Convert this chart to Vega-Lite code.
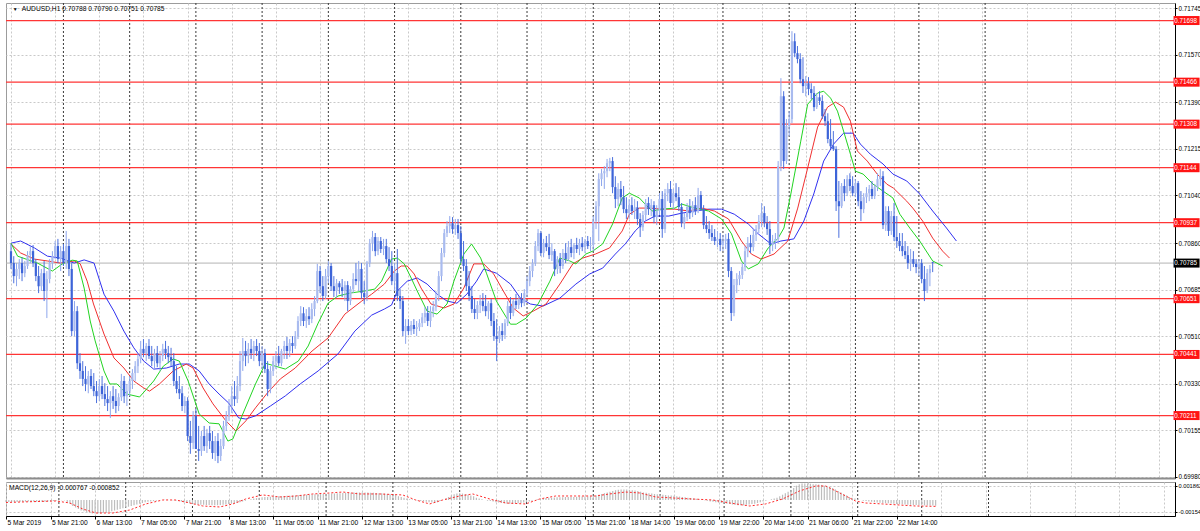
{
"$schema":"https://vega.github.io/schema/vega-lite/v6.json",
"padding":{"left":3,"top":2,"right":0,"bottom":0},
"background":"white",
"spacing":0,
"config":{"view":{"stroke":"#9C9C9C"},"axis":{"labelFont":"Liberation Sans","labelFontSize":6.4,"labelColor":"#000000"},"text":{"font":"Liberation Sans"}},
"datasets":{
"bars":[
{"i":0,"o":0.7083,"h":0.70857,"l":0.70763,"c":0.70785,"m":-0.00026},
{"i":1,"o":0.70785,"h":0.70811,"l":0.70709,"c":0.70736,"m":-0.00028},
{"i":2,"o":0.70736,"h":0.70785,"l":0.70698,"c":0.70763,"m":-0.0003},
{"i":3,"o":0.70763,"h":0.708,"l":0.70725,"c":0.70785,"m":-0.00029},
{"i":4,"o":0.70785,"h":0.70807,"l":0.70717,"c":0.70747,"m":-0.00027},
{"i":5,"o":0.70747,"h":0.70793,"l":0.70732,"c":0.70774,"m":-0.00026},
{"i":6,"o":0.70774,"h":0.7083,"l":0.70763,"c":0.70815,"m":-0.00024},
{"i":7,"o":0.70815,"h":0.70849,"l":0.70785,"c":0.7083,"m":-0.00022},
{"i":8,"o":0.7083,"h":0.70853,"l":0.7077,"c":0.70785,"m":-0.00021},
{"i":9,"o":0.70785,"h":0.708,"l":0.70717,"c":0.70736,"m":-0.00022},
{"i":10,"o":0.70736,"h":0.70774,"l":0.70672,"c":0.70698,"m":-0.00024},
{"i":11,"o":0.70698,"h":0.70763,"l":0.7068,"c":0.70747,"m":-0.00025},
{"i":12,"o":0.70747,"h":0.70793,"l":0.70642,"c":0.7068,"m":-0.00026},
{"i":13,"o":0.7068,"h":0.70755,"l":0.70578,"c":0.70725,"m":-0.00027},
{"i":14,"o":0.70725,"h":0.708,"l":0.70709,"c":0.70785,"m":-0.00024},
{"i":15,"o":0.70785,"h":0.7083,"l":0.70763,"c":0.70811,"m":-0.0002},
{"i":16,"o":0.70811,"h":0.70868,"l":0.708,"c":0.70849,"m":-0.00016},
{"i":17,"o":0.70849,"h":0.70876,"l":0.70785,"c":0.708,"m":-0.00012},
{"i":18,"o":0.708,"h":0.70849,"l":0.70755,"c":0.7083,"m":-0.0001},
{"i":19,"o":0.7083,"h":0.70857,"l":0.70774,"c":0.70785,"m":-0.00008},
{"i":20,"o":0.70785,"h":0.70906,"l":0.70763,"c":0.70849,"m":-0.00003},
{"i":21,"o":0.70849,"h":0.70876,"l":0.70736,"c":0.70763,"m":-0.00005},
{"i":22,"o":0.70763,"h":0.70785,"l":0.7051,"c":0.70529,"m":-0.0003},
{"i":23,"o":0.70529,"h":0.70642,"l":0.7051,"c":0.70604,"m":-0.00055},
{"i":24,"o":0.70604,"h":0.70623,"l":0.70386,"c":0.70408,"m":-0.0008},
{"i":25,"o":0.70408,"h":0.70446,"l":0.70349,"c":0.70379,"m":-0.001},
{"i":26,"o":0.70379,"h":0.70416,"l":0.70322,"c":0.70349,"m":-0.0012},
{"i":27,"o":0.70349,"h":0.70397,"l":0.70303,"c":0.7033,"m":-0.0014},
{"i":28,"o":0.7033,"h":0.70379,"l":0.70295,"c":0.7036,"m":-0.0015},
{"i":29,"o":0.7036,"h":0.70386,"l":0.70311,"c":0.70322,"m":-0.0016},
{"i":30,"o":0.70322,"h":0.70371,"l":0.70284,"c":0.70303,"m":-0.0017},
{"i":31,"o":0.70303,"h":0.70341,"l":0.70258,"c":0.70284,"m":-0.0018},
{"i":32,"o":0.70284,"h":0.70349,"l":0.70266,"c":0.70322,"m":-0.0018},
{"i":33,"o":0.70322,"h":0.7036,"l":0.70273,"c":0.70292,"m":-0.0018},
{"i":34,"o":0.70292,"h":0.70333,"l":0.70247,"c":0.70273,"m":-0.0018},
{"i":35,"o":0.70273,"h":0.70322,"l":0.70228,"c":0.70258,"m":-0.0017},
{"i":36,"o":0.70258,"h":0.70303,"l":0.70202,"c":0.70284,"m":-0.0017},
{"i":37,"o":0.70284,"h":0.70322,"l":0.70236,"c":0.70266,"m":-0.0016},
{"i":38,"o":0.70266,"h":0.70311,"l":0.7022,"c":0.70247,"m":-0.0015},
{"i":39,"o":0.70247,"h":0.70295,"l":0.70228,"c":0.7028,"m":-0.0014},
{"i":40,"o":0.7028,"h":0.70368,"l":0.70266,"c":0.70341,"m":-0.0013},
{"i":41,"o":0.70341,"h":0.7036,"l":0.70258,"c":0.70284,"m":-0.0012},
{"i":42,"o":0.70284,"h":0.7033,"l":0.70247,"c":0.70303,"m":-0.0011},
{"i":43,"o":0.70303,"h":0.7036,"l":0.70284,"c":0.70341,"m":-0.001},
{"i":44,"o":0.70341,"h":0.70386,"l":0.70311,"c":0.70371,"m":-0.0009},
{"i":45,"o":0.70371,"h":0.70416,"l":0.70341,"c":0.70397,"m":-0.0008},
{"i":46,"o":0.70397,"h":0.70446,"l":0.70371,"c":0.70424,"m":-0.0007},
{"i":47,"o":0.70424,"h":0.70492,"l":0.70408,"c":0.70462,"m":-0.0006},
{"i":48,"o":0.70462,"h":0.70499,"l":0.70431,"c":0.70446,"m":-0.0005},
{"i":49,"o":0.70446,"h":0.70484,"l":0.70416,"c":0.70473,"m":-0.0004},
{"i":50,"o":0.70473,"h":0.70499,"l":0.70424,"c":0.70435,"m":-0.0003},
{"i":51,"o":0.70435,"h":0.70473,"l":0.70397,"c":0.70416,"m":-0.00025},
{"i":52,"o":0.70416,"h":0.70462,"l":0.70386,"c":0.70446,"m":-0.0002},
{"i":53,"o":0.70446,"h":0.70473,"l":0.70393,"c":0.70408,"m":-0.00015},
{"i":54,"o":0.70408,"h":0.70454,"l":0.70379,"c":0.70435,"m":-0.0001},
{"i":55,"o":0.70435,"h":0.70481,"l":0.70416,"c":0.70462,"m":-0.00005},
{"i":56,"o":0.70462,"h":0.70492,"l":0.70424,"c":0.70446,"m":0},
{"i":57,"o":0.70446,"h":0.70473,"l":0.70408,"c":0.70431,"m":0.00002},
{"i":58,"o":0.70431,"h":0.70466,"l":0.70397,"c":0.70416,"m":0.00003},
{"i":59,"o":0.70416,"h":0.70446,"l":0.70322,"c":0.70341,"m":0},
{"i":60,"o":0.70341,"h":0.70397,"l":0.70295,"c":0.70311,"m":-0.00005},
{"i":61,"o":0.70311,"h":0.7036,"l":0.70273,"c":0.70295,"m":-0.0001},
{"i":62,"o":0.70295,"h":0.70322,"l":0.70228,"c":0.70247,"m":-0.00015},
{"i":63,"o":0.70247,"h":0.70284,"l":0.7022,"c":0.70266,"m":-0.0002},
{"i":64,"o":0.70266,"h":0.7028,"l":0.70115,"c":0.70134,"m":-0.0003},
{"i":65,"o":0.70134,"h":0.70191,"l":0.70067,"c":0.70108,"m":-0.0004},
{"i":66,"o":0.70108,"h":0.70228,"l":0.70085,"c":0.7021,"m":-0.00045},
{"i":67,"o":0.7021,"h":0.70236,"l":0.70096,"c":0.70085,"m":-0.0005},
{"i":68,"o":0.70085,"h":0.70172,"l":0.7004,"c":0.70078,"m":-0.00055},
{"i":69,"o":0.70078,"h":0.70153,"l":0.70059,"c":0.70134,"m":-0.0006},
{"i":70,"o":0.70134,"h":0.70172,"l":0.70078,"c":0.70096,"m":-0.00062},
{"i":71,"o":0.70096,"h":0.70161,"l":0.7007,"c":0.70145,"m":-0.00064},
{"i":72,"o":0.70145,"h":0.70172,"l":0.70085,"c":0.70115,"m":-0.00066},
{"i":73,"o":0.70115,"h":0.70153,"l":0.70048,"c":0.7007,"m":-0.00068},
{"i":74,"o":0.7007,"h":0.70134,"l":0.7004,"c":0.70115,"m":-0.0007},
{"i":75,"o":0.70115,"h":0.70145,"l":0.70032,"c":0.70059,"m":-0.0007},
{"i":76,"o":0.70059,"h":0.70123,"l":0.7004,"c":0.70096,"m":-0.0007},
{"i":77,"o":0.70096,"h":0.70191,"l":0.70085,"c":0.70172,"m":-0.00068},
{"i":78,"o":0.70172,"h":0.70228,"l":0.70153,"c":0.7021,"m":-0.00065},
{"i":79,"o":0.7021,"h":0.70273,"l":0.70191,"c":0.70247,"m":-0.0006},
{"i":80,"o":0.70247,"h":0.70322,"l":0.7022,"c":0.70284,"m":-0.00055},
{"i":81,"o":0.70284,"h":0.70341,"l":0.70247,"c":0.70273,"m":-0.0005},
{"i":82,"o":0.70273,"h":0.7036,"l":0.70258,"c":0.70322,"m":-0.00045},
{"i":83,"o":0.70322,"h":0.70454,"l":0.70303,"c":0.70416,"m":-0.0004},
{"i":84,"o":0.70416,"h":0.70503,"l":0.70379,"c":0.70454,"m":-0.0003},
{"i":85,"o":0.70454,"h":0.70492,"l":0.70397,"c":0.70435,"m":-0.0002},
{"i":86,"o":0.70435,"h":0.70484,"l":0.70408,"c":0.70462,"m":-0.0001},
{"i":87,"o":0.70462,"h":0.70499,"l":0.70424,"c":0.70446,"m":0},
{"i":88,"o":0.70446,"h":0.70492,"l":0.70416,"c":0.70473,"m":0.0001},
{"i":89,"o":0.70473,"h":0.70499,"l":0.70435,"c":0.70454,"m":0.0002},
{"i":90,"o":0.70454,"h":0.70484,"l":0.70397,"c":0.70416,"m":0.00025},
{"i":91,"o":0.70416,"h":0.70473,"l":0.70386,"c":0.70446,"m":0.0003},
{"i":92,"o":0.70446,"h":0.70462,"l":0.70371,"c":0.70386,"m":0.00035},
{"i":93,"o":0.70386,"h":0.70416,"l":0.70284,"c":0.70311,"m":0.0004},
{"i":94,"o":0.70311,"h":0.70397,"l":0.70295,"c":0.70379,"m":0.0004},
{"i":95,"o":0.70379,"h":0.70435,"l":0.7036,"c":0.70416,"m":0.00042},
{"i":96,"o":0.70416,"h":0.70454,"l":0.70386,"c":0.70435,"m":0.00045},
{"i":97,"o":0.70435,"h":0.70473,"l":0.70397,"c":0.70408,"m":0.00047},
{"i":98,"o":0.70408,"h":0.70462,"l":0.70397,"c":0.70454,"m":0.0005},
{"i":99,"o":0.70454,"h":0.70492,"l":0.70424,"c":0.70473,"m":0.0005},
{"i":100,"o":0.70473,"h":0.70507,"l":0.70424,"c":0.70454,"m":0.00052},
{"i":101,"o":0.70454,"h":0.70499,"l":0.70431,"c":0.70484,"m":0.00055},
{"i":102,"o":0.70484,"h":0.7051,"l":0.70446,"c":0.70473,"m":0.00057},
{"i":103,"o":0.70473,"h":0.70529,"l":0.70462,"c":0.7051,"m":0.0006},
{"i":104,"o":0.7051,"h":0.70585,"l":0.70499,"c":0.70567,"m":0.0006},
{"i":105,"o":0.70567,"h":0.70623,"l":0.70548,"c":0.70596,"m":0.00062},
{"i":106,"o":0.70596,"h":0.70619,"l":0.70548,"c":0.70567,"m":0.00065},
{"i":107,"o":0.70567,"h":0.70612,"l":0.70541,"c":0.70585,"m":0.00067},
{"i":108,"o":0.70585,"h":0.70619,"l":0.70552,"c":0.70574,"m":0.0007},
{"i":109,"o":0.70574,"h":0.70634,"l":0.70559,"c":0.70612,"m":0.0007},
{"i":110,"o":0.70612,"h":0.70661,"l":0.70585,"c":0.70642,"m":0.00072},
{"i":111,"o":0.70642,"h":0.70782,"l":0.70634,"c":0.70755,"m":0.00075},
{"i":112,"o":0.70755,"h":0.70774,"l":0.70672,"c":0.70698,"m":0.00077},
{"i":113,"o":0.70698,"h":0.70736,"l":0.70642,"c":0.70661,"m":0.0008},
{"i":114,"o":0.70661,"h":0.70763,"l":0.7065,"c":0.70736,"m":0.0008},
{"i":115,"o":0.70736,"h":0.70793,"l":0.70709,"c":0.70774,"m":0.0008},
{"i":116,"o":0.70774,"h":0.70785,"l":0.7068,"c":0.70698,"m":0.00082},
{"i":117,"o":0.70698,"h":0.70736,"l":0.70657,"c":0.7068,"m":0.00085},
{"i":118,"o":0.7068,"h":0.70725,"l":0.70654,"c":0.70709,"m":0.00087},
{"i":119,"o":0.70709,"h":0.70717,"l":0.70669,"c":0.70694,"m":0.0009},
{"i":120,"o":0.70694,"h":0.70725,"l":0.70657,"c":0.7068,"m":0.0009},
{"i":121,"o":0.7068,"h":0.70717,"l":0.70642,"c":0.70702,"m":0.00092},
{"i":122,"o":0.70702,"h":0.70717,"l":0.70604,"c":0.70642,"m":0.00095},
{"i":123,"o":0.70642,"h":0.70698,"l":0.70627,"c":0.70687,"m":0.00095},
{"i":124,"o":0.70687,"h":0.70747,"l":0.70672,"c":0.70725,"m":0.00097},
{"i":125,"o":0.70725,"h":0.70785,"l":0.70702,"c":0.70717,"m":0.001},
{"i":126,"o":0.70717,"h":0.70793,"l":0.7068,"c":0.70763,"m":0.001},
{"i":127,"o":0.70763,"h":0.70785,"l":0.7065,"c":0.70672,"m":0.001},
{"i":128,"o":0.70672,"h":0.70717,"l":0.70631,"c":0.70657,"m":0.001},
{"i":129,"o":0.70657,"h":0.70793,"l":0.70642,"c":0.70785,"m":0.001},
{"i":130,"o":0.70785,"h":0.70876,"l":0.7077,"c":0.7086,"m":0.00098},
{"i":131,"o":0.7086,"h":0.70906,"l":0.7083,"c":0.70883,"m":0.00097},
{"i":132,"o":0.70883,"h":0.70898,"l":0.70811,"c":0.7083,"m":0.00095},
{"i":133,"o":0.7083,"h":0.70883,"l":0.70815,"c":0.70868,"m":0.00093},
{"i":134,"o":0.70868,"h":0.70883,"l":0.70823,"c":0.70838,"m":0.0009},
{"i":135,"o":0.70838,"h":0.70876,"l":0.70815,"c":0.70849,"m":0.00088},
{"i":136,"o":0.70849,"h":0.70876,"l":0.70785,"c":0.708,"m":0.00085},
{"i":137,"o":0.708,"h":0.70845,"l":0.70755,"c":0.70774,"m":0.0008},
{"i":138,"o":0.70774,"h":0.7083,"l":0.70702,"c":0.70717,"m":0.00075},
{"i":139,"o":0.70717,"h":0.70785,"l":0.7068,"c":0.70747,"m":0.0007},
{"i":140,"o":0.70747,"h":0.70838,"l":0.70642,"c":0.70661,"m":0.00065},
{"i":141,"o":0.70661,"h":0.70687,"l":0.70612,"c":0.70642,"m":0.0005},
{"i":142,"o":0.70642,"h":0.70661,"l":0.7051,"c":0.70529,"m":0.0004},
{"i":143,"o":0.70529,"h":0.70574,"l":0.70481,"c":0.70548,"m":0.0003},
{"i":144,"o":0.70548,"h":0.70574,"l":0.70514,"c":0.70529,"m":0.0002},
{"i":145,"o":0.70529,"h":0.70567,"l":0.70514,"c":0.70552,"m":0.0001},
{"i":146,"o":0.70552,"h":0.70574,"l":0.70518,"c":0.70537,"m":0.00005},
{"i":147,"o":0.70537,"h":0.70567,"l":0.7051,"c":0.70544,"m":-0.00005},
{"i":148,"o":0.70544,"h":0.70574,"l":0.70529,"c":0.70559,"m":-0.0001},
{"i":149,"o":0.70559,"h":0.70597,"l":0.70544,"c":0.70581,"m":-0.00015},
{"i":150,"o":0.70581,"h":0.70619,"l":0.70559,"c":0.70597,"m":-0.0002},
{"i":151,"o":0.70597,"h":0.70623,"l":0.70548,"c":0.70567,"m":-0.00025},
{"i":152,"o":0.70567,"h":0.70623,"l":0.70544,"c":0.70604,"m":-0.0003},
{"i":153,"o":0.70604,"h":0.70642,"l":0.70581,"c":0.70619,"m":-0.00035},
{"i":154,"o":0.70619,"h":0.7068,"l":0.70604,"c":0.70657,"m":-0.0004},
{"i":155,"o":0.70657,"h":0.70755,"l":0.70642,"c":0.70736,"m":-0.0003},
{"i":156,"o":0.70736,"h":0.70842,"l":0.70717,"c":0.70823,"m":-0.00015},
{"i":157,"o":0.70823,"h":0.70913,"l":0.70807,"c":0.70898,"m":0},
{"i":158,"o":0.70898,"h":0.70943,"l":0.70883,"c":0.70924,"m":0.0002},
{"i":159,"o":0.70924,"h":0.70962,"l":0.70898,"c":0.70935,"m":0.0004},
{"i":160,"o":0.70935,"h":0.70958,"l":0.70895,"c":0.70913,"m":0.0006},
{"i":161,"o":0.70913,"h":0.70951,"l":0.70891,"c":0.70928,"m":0.00075},
{"i":162,"o":0.70928,"h":0.70951,"l":0.70876,"c":0.70898,"m":0.00085},
{"i":163,"o":0.70898,"h":0.70924,"l":0.70785,"c":0.708,"m":0.0009},
{"i":164,"o":0.708,"h":0.70868,"l":0.70755,"c":0.70774,"m":0.00085},
{"i":165,"o":0.70774,"h":0.708,"l":0.7068,"c":0.70698,"m":0.0008},
{"i":166,"o":0.70698,"h":0.70755,"l":0.70642,"c":0.70661,"m":0.0007},
{"i":167,"o":0.70661,"h":0.70698,"l":0.70597,"c":0.70612,"m":0.0006},
{"i":168,"o":0.70612,"h":0.7065,"l":0.70574,"c":0.70597,"m":0.0005},
{"i":169,"o":0.70597,"h":0.70642,"l":0.70574,"c":0.70627,"m":0.0003},
{"i":170,"o":0.70627,"h":0.70665,"l":0.70597,"c":0.70642,"m":0.0002},
{"i":171,"o":0.70642,"h":0.70672,"l":0.70604,"c":0.70623,"m":0.0001},
{"i":172,"o":0.70623,"h":0.70665,"l":0.70585,"c":0.70604,"m":0},
{"i":173,"o":0.70604,"h":0.70642,"l":0.70574,"c":0.70634,"m":-0.0001},
{"i":174,"o":0.70634,"h":0.7065,"l":0.70548,"c":0.70567,"m":-0.00015},
{"i":175,"o":0.70567,"h":0.70597,"l":0.70492,"c":0.7051,"m":-0.0002},
{"i":176,"o":0.7051,"h":0.70574,"l":0.70416,"c":0.70499,"m":-0.0003},
{"i":177,"o":0.70499,"h":0.70548,"l":0.70484,"c":0.70529,"m":-0.00035},
{"i":178,"o":0.70529,"h":0.70559,"l":0.70492,"c":0.70514,"m":-0.0004},
{"i":179,"o":0.70514,"h":0.70574,"l":0.70499,"c":0.70559,"m":-0.00045},
{"i":180,"o":0.70559,"h":0.70642,"l":0.70548,"c":0.70623,"m":-0.0005},
{"i":181,"o":0.70623,"h":0.70657,"l":0.70574,"c":0.70597,"m":-0.0005},
{"i":182,"o":0.70597,"h":0.7065,"l":0.70585,"c":0.70642,"m":-0.0005},
{"i":183,"o":0.70642,"h":0.70669,"l":0.70612,"c":0.70627,"m":-0.00048},
{"i":184,"o":0.70627,"h":0.70661,"l":0.70612,"c":0.7065,"m":-0.00045},
{"i":185,"o":0.7065,"h":0.70672,"l":0.70619,"c":0.70634,"m":-0.0004},
{"i":186,"o":0.70634,"h":0.70687,"l":0.70623,"c":0.70672,"m":-0.00035},
{"i":187,"o":0.70672,"h":0.70736,"l":0.70657,"c":0.70717,"m":-0.0003},
{"i":188,"o":0.70717,"h":0.70774,"l":0.70698,"c":0.70755,"m":-0.0002},
{"i":189,"o":0.70755,"h":0.708,"l":0.70732,"c":0.70785,"m":-0.0001},
{"i":190,"o":0.70785,"h":0.70868,"l":0.70774,"c":0.70849,"m":0},
{"i":191,"o":0.70849,"h":0.70913,"l":0.7083,"c":0.70898,"m":0.0001},
{"i":192,"o":0.70898,"h":0.70906,"l":0.70811,"c":0.70823,"m":0.00015},
{"i":193,"o":0.70823,"h":0.70876,"l":0.70807,"c":0.7086,"m":0.0002},
{"i":194,"o":0.7086,"h":0.70887,"l":0.7083,"c":0.70845,"m":0.00025},
{"i":195,"o":0.70845,"h":0.70895,"l":0.708,"c":0.70815,"m":0.0003},
{"i":196,"o":0.70815,"h":0.7086,"l":0.70793,"c":0.7083,"m":0.0003},
{"i":197,"o":0.7083,"h":0.70838,"l":0.70736,"c":0.70763,"m":0.00032},
{"i":198,"o":0.70763,"h":0.70811,"l":0.70744,"c":0.708,"m":0.00035},
{"i":199,"o":0.708,"h":0.70823,"l":0.70747,"c":0.70774,"m":0.00035},
{"i":200,"o":0.70774,"h":0.70838,"l":0.70763,"c":0.70823,"m":0.00037},
{"i":201,"o":0.70823,"h":0.7086,"l":0.70785,"c":0.708,"m":0.0004},
{"i":202,"o":0.708,"h":0.70868,"l":0.70793,"c":0.70845,"m":0.0004},
{"i":203,"o":0.70845,"h":0.70876,"l":0.70807,"c":0.70823,"m":0.0004},
{"i":204,"o":0.70823,"h":0.7086,"l":0.708,"c":0.70853,"m":0.0004},
{"i":205,"o":0.70853,"h":0.7088,"l":0.70823,"c":0.70838,"m":0.00042},
{"i":206,"o":0.70838,"h":0.70876,"l":0.70815,"c":0.7086,"m":0.00043},
{"i":207,"o":0.7086,"h":0.70883,"l":0.7083,"c":0.70845,"m":0.00045},
{"i":208,"o":0.70845,"h":0.70876,"l":0.70823,"c":0.70868,"m":0.00045},
{"i":209,"o":0.70868,"h":0.70887,"l":0.70838,"c":0.70849,"m":0.00047},
{"i":210,"o":0.70849,"h":0.70883,"l":0.7083,"c":0.70853,"m":0.0005},
{"i":211,"o":0.70853,"h":0.70962,"l":0.7083,"c":0.70943,"m":0.00055},
{"i":212,"o":0.70943,"h":0.71018,"l":0.70913,"c":0.70999,"m":0.0006},
{"i":213,"o":0.70999,"h":0.71123,"l":0.70868,"c":0.71101,"m":0.0007},
{"i":214,"o":0.71101,"h":0.71139,"l":0.71075,"c":0.71123,"m":0.0008},
{"i":215,"o":0.71123,"h":0.7115,"l":0.71064,"c":0.71131,"m":0.0009},
{"i":216,"o":0.71131,"h":0.71177,"l":0.71108,"c":0.71161,"m":0.001},
{"i":217,"o":0.71161,"h":0.71181,"l":0.71131,"c":0.71169,"m":0.0011},
{"i":218,"o":0.71169,"h":0.71184,"l":0.71048,"c":0.71071,"m":0.0012},
{"i":219,"o":0.71071,"h":0.71112,"l":0.70992,"c":0.71026,"m":0.0013},
{"i":220,"o":0.71026,"h":0.71086,"l":0.70999,"c":0.71064,"m":0.00135},
{"i":221,"o":0.71064,"h":0.71094,"l":0.71003,"c":0.71033,"m":0.0014},
{"i":222,"o":0.71033,"h":0.71075,"l":0.70973,"c":0.70988,"m":0.0014},
{"i":223,"o":0.70988,"h":0.71033,"l":0.70951,"c":0.70973,"m":0.00138},
{"i":224,"o":0.70973,"h":0.71026,"l":0.70951,"c":0.71003,"m":0.00135},
{"i":225,"o":0.71003,"h":0.71033,"l":0.70966,"c":0.70981,"m":0.0013},
{"i":226,"o":0.70981,"h":0.71026,"l":0.70951,"c":0.70995,"m":0.00125},
{"i":227,"o":0.70995,"h":0.71018,"l":0.70928,"c":0.70951,"m":0.0012},
{"i":228,"o":0.70951,"h":0.70973,"l":0.70883,"c":0.7092,"m":0.0011},
{"i":229,"o":0.7092,"h":0.70981,"l":0.70906,"c":0.70966,"m":0.001},
{"i":230,"o":0.70966,"h":0.71026,"l":0.70943,"c":0.71011,"m":0.00095},
{"i":231,"o":0.71011,"h":0.71033,"l":0.70966,"c":0.70988,"m":0.0009},
{"i":232,"o":0.70988,"h":0.71026,"l":0.70962,"c":0.71003,"m":0.00085},
{"i":233,"o":0.71003,"h":0.71018,"l":0.70935,"c":0.70958,"m":0.0008},
{"i":234,"o":0.70958,"h":0.71003,"l":0.70928,"c":0.70981,"m":0.00075},
{"i":235,"o":0.70981,"h":0.71048,"l":0.70966,"c":0.71026,"m":0.0007},
{"i":236,"o":0.71026,"h":0.71056,"l":0.7088,"c":0.70913,"m":0.0007},
{"i":237,"o":0.70913,"h":0.71064,"l":0.70898,"c":0.71048,"m":0.00065},
{"i":238,"o":0.71048,"h":0.71086,"l":0.71018,"c":0.71064,"m":0.0006},
{"i":239,"o":0.71064,"h":0.71094,"l":0.70996,"c":0.71011,"m":0.0006},
{"i":240,"o":0.71011,"h":0.71064,"l":0.70988,"c":0.71048,"m":0.00055},
{"i":241,"o":0.71048,"h":0.71086,"l":0.71018,"c":0.71033,"m":0.0005},
{"i":242,"o":0.71033,"h":0.71071,"l":0.70981,"c":0.70996,"m":0.00045},
{"i":243,"o":0.70996,"h":0.71011,"l":0.7092,"c":0.70935,"m":0.0004},
{"i":244,"o":0.70935,"h":0.70973,"l":0.70913,"c":0.70958,"m":0.00035},
{"i":245,"o":0.70958,"h":0.71011,"l":0.70943,"c":0.70996,"m":0.0003},
{"i":246,"o":0.70996,"h":0.71026,"l":0.70951,"c":0.70973,"m":0.00025},
{"i":247,"o":0.70973,"h":0.71018,"l":0.70958,"c":0.71003,"m":0.0002},
{"i":248,"o":0.71003,"h":0.71033,"l":0.70966,"c":0.70981,"m":0.00015},
{"i":249,"o":0.70981,"h":0.71068,"l":0.70973,"c":0.71041,"m":0.0001},
{"i":250,"o":0.71041,"h":0.71056,"l":0.70981,"c":0.70988,"m":0.00005},
{"i":251,"o":0.70988,"h":0.71003,"l":0.70913,"c":0.70928,"m":-0.00005},
{"i":252,"o":0.70928,"h":0.70962,"l":0.70898,"c":0.70913,"m":-0.0001},
{"i":253,"o":0.70913,"h":0.70943,"l":0.70876,"c":0.70898,"m":-0.0002},
{"i":254,"o":0.70898,"h":0.70928,"l":0.70868,"c":0.70883,"m":-0.00025},
{"i":255,"o":0.70883,"h":0.70913,"l":0.70853,"c":0.70868,"m":-0.0003},
{"i":256,"o":0.70868,"h":0.70906,"l":0.70845,"c":0.70876,"m":-0.00035},
{"i":257,"o":0.70876,"h":0.70898,"l":0.7083,"c":0.70853,"m":-0.0004},
{"i":258,"o":0.70853,"h":0.70891,"l":0.7083,"c":0.70868,"m":-0.00045},
{"i":259,"o":0.70868,"h":0.70895,"l":0.70838,"c":0.70876,"m":-0.0005},
{"i":260,"o":0.70876,"h":0.70898,"l":0.70732,"c":0.70755,"m":-0.00055},
{"i":261,"o":0.70755,"h":0.7077,"l":0.70567,"c":0.70597,"m":-0.0006},
{"i":262,"o":0.70597,"h":0.70725,"l":0.70585,"c":0.70702,"m":-0.00065},
{"i":263,"o":0.70702,"h":0.70747,"l":0.70672,"c":0.70725,"m":-0.0007},
{"i":264,"o":0.70725,"h":0.70755,"l":0.70702,"c":0.7074,"m":-0.0007},
{"i":265,"o":0.7074,"h":0.70785,"l":0.70725,"c":0.7077,"m":-0.0007},
{"i":266,"o":0.7077,"h":0.70849,"l":0.70755,"c":0.7083,"m":-0.00065},
{"i":267,"o":0.7083,"h":0.70883,"l":0.70807,"c":0.7086,"m":-0.0006},
{"i":268,"o":0.7086,"h":0.70891,"l":0.70823,"c":0.70845,"m":-0.00055},
{"i":269,"o":0.70845,"h":0.70913,"l":0.7083,"c":0.70891,"m":-0.0005},
{"i":270,"o":0.70891,"h":0.70928,"l":0.70868,"c":0.70913,"m":-0.0004},
{"i":271,"o":0.70913,"h":0.70966,"l":0.70898,"c":0.70943,"m":-0.0003},
{"i":272,"o":0.70943,"h":0.71011,"l":0.7092,"c":0.70973,"m":-0.0002},
{"i":273,"o":0.70973,"h":0.70999,"l":0.7092,"c":0.70935,"m":-0.0001},
{"i":274,"o":0.70935,"h":0.70962,"l":0.70891,"c":0.70913,"m":0},
{"i":275,"o":0.70913,"h":0.70943,"l":0.70819,"c":0.70853,"m":0.0001},
{"i":276,"o":0.70853,"h":0.70891,"l":0.7083,"c":0.70868,"m":0.0002},
{"i":277,"o":0.70868,"h":0.70898,"l":0.70838,"c":0.70876,"m":0.0003},
{"i":278,"o":0.70876,"h":0.71169,"l":0.7086,"c":0.7115,"m":0.0005},
{"i":279,"o":0.7115,"h":0.71481,"l":0.71131,"c":0.71413,"m":0.0007},
{"i":280,"o":0.71413,"h":0.71432,"l":0.71139,"c":0.71169,"m":0.0009},
{"i":281,"o":0.71169,"h":0.71327,"l":0.71158,"c":0.71301,"m":0.0011},
{"i":282,"o":0.71301,"h":0.71357,"l":0.71263,"c":0.71327,"m":0.0013},
{"i":283,"o":0.71327,"h":0.71658,"l":0.71312,"c":0.7162,"m":0.0016},
{"i":284,"o":0.7162,"h":0.7165,"l":0.7156,"c":0.71575,"m":0.0019},
{"i":285,"o":0.71575,"h":0.71602,"l":0.71537,"c":0.71553,"m":0.0021},
{"i":286,"o":0.71553,"h":0.71575,"l":0.71462,"c":0.71477,"m":0.0022},
{"i":287,"o":0.71477,"h":0.7156,"l":0.71425,"c":0.71451,"m":0.0022},
{"i":288,"o":0.71451,"h":0.71489,"l":0.71413,"c":0.71462,"m":0.0022},
{"i":289,"o":0.71462,"h":0.71485,"l":0.71417,"c":0.7144,"m":0.00215},
{"i":290,"o":0.7144,"h":0.71462,"l":0.71402,"c":0.71425,"m":0.0021},
{"i":291,"o":0.71425,"h":0.71451,"l":0.71357,"c":0.71372,"m":0.0021},
{"i":292,"o":0.71372,"h":0.71425,"l":0.71365,"c":0.71409,"m":0.00205},
{"i":293,"o":0.71409,"h":0.71432,"l":0.7138,"c":0.71395,"m":0.002},
{"i":294,"o":0.71395,"h":0.71417,"l":0.71327,"c":0.71338,"m":0.0019},
{"i":295,"o":0.71338,"h":0.71365,"l":0.71301,"c":0.71319,"m":0.0018},
{"i":296,"o":0.71319,"h":0.71349,"l":0.71236,"c":0.71252,"m":0.0017},
{"i":297,"o":0.71252,"h":0.71327,"l":0.71214,"c":0.71225,"m":0.0016},
{"i":298,"o":0.71225,"h":0.71282,"l":0.71207,"c":0.71214,"m":0.0014},
{"i":299,"o":0.71214,"h":0.71225,"l":0.70981,"c":0.71018,"m":0.0012},
{"i":300,"o":0.71018,"h":0.71094,"l":0.7088,"c":0.70999,"m":0.001},
{"i":301,"o":0.70999,"h":0.71086,"l":0.70992,"c":0.71075,"m":0.0008},
{"i":302,"o":0.71075,"h":0.71101,"l":0.71018,"c":0.71048,"m":0.0006},
{"i":303,"o":0.71048,"h":0.71116,"l":0.71037,"c":0.71101,"m":0.0004},
{"i":304,"o":0.71101,"h":0.71123,"l":0.71056,"c":0.71075,"m":0.0003},
{"i":305,"o":0.71075,"h":0.71112,"l":0.71037,"c":0.71048,"m":0.0002},
{"i":306,"o":0.71048,"h":0.71101,"l":0.71033,"c":0.71086,"m":0.0001},
{"i":307,"o":0.71086,"h":0.71094,"l":0.70999,"c":0.71018,"m":0},
{"i":308,"o":0.71018,"h":0.71056,"l":0.70943,"c":0.70988,"m":-0.0001},
{"i":309,"o":0.70988,"h":0.71048,"l":0.70973,"c":0.71033,"m":-0.00015},
{"i":310,"o":0.71033,"h":0.71071,"l":0.71011,"c":0.71048,"m":-0.0002},
{"i":311,"o":0.71048,"h":0.71079,"l":0.71018,"c":0.71064,"m":-0.00025},
{"i":312,"o":0.71064,"h":0.71094,"l":0.71026,"c":0.71037,"m":-0.0003},
{"i":313,"o":0.71037,"h":0.71083,"l":0.71026,"c":0.71071,"m":-0.00033},
{"i":314,"o":0.71071,"h":0.71123,"l":0.71056,"c":0.71101,"m":-0.00036},
{"i":315,"o":0.71101,"h":0.71139,"l":0.71075,"c":0.71112,"m":-0.0004},
{"i":316,"o":0.71112,"h":0.71131,"l":0.70913,"c":0.70928,"m":-0.00042},
{"i":317,"o":0.70928,"h":0.70999,"l":0.70906,"c":0.70981,"m":-0.00045},
{"i":318,"o":0.70981,"h":0.70999,"l":0.70887,"c":0.70906,"m":-0.00048},
{"i":319,"o":0.70906,"h":0.70981,"l":0.70891,"c":0.70962,"m":-0.0005},
{"i":320,"o":0.70962,"h":0.71011,"l":0.70868,"c":0.70883,"m":-0.00052},
{"i":321,"o":0.70883,"h":0.70962,"l":0.70842,"c":0.70868,"m":-0.00055},
{"i":322,"o":0.70868,"h":0.70898,"l":0.7083,"c":0.70849,"m":-0.00057},
{"i":323,"o":0.70849,"h":0.70898,"l":0.70811,"c":0.7083,"m":-0.0006},
{"i":324,"o":0.7083,"h":0.70868,"l":0.708,"c":0.70815,"m":-0.00062},
{"i":325,"o":0.70815,"h":0.70849,"l":0.70763,"c":0.70785,"m":-0.00064},
{"i":326,"o":0.70785,"h":0.70838,"l":0.70755,"c":0.708,"m":-0.00066},
{"i":327,"o":0.708,"h":0.7083,"l":0.7077,"c":0.70782,"m":-0.00068},
{"i":328,"o":0.70782,"h":0.708,"l":0.70747,"c":0.7077,"m":-0.0007},
{"i":329,"o":0.7077,"h":0.708,"l":0.70736,"c":0.70785,"m":-0.00071},
{"i":330,"o":0.70785,"h":0.708,"l":0.70709,"c":0.70725,"m":-0.00072},
{"i":331,"o":0.70725,"h":0.70774,"l":0.70642,"c":0.7068,"m":-0.00073},
{"i":332,"o":0.7068,"h":0.70763,"l":0.70672,"c":0.70747,"m":-0.00074},
{"i":333,"o":0.70747,"h":0.70778,"l":0.70698,"c":0.70763,"m":-0.00075},
{"i":334,"o":0.70788,"h":0.7079,"l":0.70751,"c":0.70785,"m":-0.000767}
],
"green":[
{"i":0,"v":0.7086},{"i":2.4,"v":0.70811},{"i":9.6,"v":0.70785},{"i":15,"v":0.70755},{"i":18.6,"v":0.70782},{"i":22.2,"v":0.70796},{"i":24,"v":0.70793},{"i":26.5,"v":0.70691},{"i":28.7,"v":0.70567},{"i":30.5,"v":0.70492},{"i":33.7,"v":0.70379},{"i":35.8,"v":0.7033},{"i":38.4,"v":0.7033},{"i":42,"v":0.70292},{"i":46.6,"v":0.70281},{"i":51.7,"v":0.70341},{"i":55.2,"v":0.70397},{"i":58.8,"v":0.70424},{"i":61,"v":0.70416},{"i":64.2,"v":0.70341},{"i":68.2,"v":0.70217},{"i":71.8,"v":0.70183},{"i":75.4,"v":0.7018},{"i":78.6,"v":0.70115},{"i":80.4,"v":0.70123},{"i":84,"v":0.70217},{"i":88.6,"v":0.7033},{"i":92.2,"v":0.70408},{"i":99.4,"v":0.70386},{"i":104.1,"v":0.70416},{"i":107.7,"v":0.70473},{"i":111.3,"v":0.70559},{"i":114.9,"v":0.70634},{"i":118.5,"v":0.70661},{"i":122.8,"v":0.70672},{"i":128.2,"v":0.7068},{"i":131.8,"v":0.70687},{"i":134.3,"v":0.70717},{"i":137.9,"v":0.708},{"i":140,"v":0.70804},{"i":142.5,"v":0.70782},{"i":145,"v":0.70729},{"i":147.2,"v":0.7068},{"i":150.8,"v":0.70604},{"i":154.4,"v":0.70593},{"i":158,"v":0.70631},{"i":160.5,"v":0.70717},{"i":164.1,"v":0.70819},{"i":166.9,"v":0.70857},{"i":170.2,"v":0.70804},{"i":172.3,"v":0.70747},{"i":175.9,"v":0.70642},{"i":181,"v":0.70555},{"i":183.1,"v":0.70555},{"i":186.7,"v":0.70578},{"i":191,"v":0.70631},{"i":195.3,"v":0.70717},{"i":198.9,"v":0.70804},{"i":202.5,"v":0.70793},{"i":204.7,"v":0.70782},{"i":208.3,"v":0.70819},{"i":210.8,"v":0.7083},{"i":214.4,"v":0.70857},{"i":218,"v":0.70932},{"i":221.5,"v":0.7103},{"i":224.1,"v":0.71048},{"i":227.7,"v":0.7103},{"i":229.8,"v":0.71007},{"i":232.3,"v":0.70981},{"i":235.9,"v":0.70988},{"i":240.6,"v":0.70992},{"i":243.1,"v":0.71007},{"i":247.8,"v":0.70992},{"i":252.8,"v":0.70981},{"i":257.5,"v":0.70951},{"i":261.1,"v":0.70895},{"i":264.7,"v":0.70793},{"i":267.2,"v":0.70763},{"i":270.8,"v":0.70782},{"i":274.4,"v":0.70842},{"i":278,"v":0.70879},{"i":280.1,"v":0.70917},{"i":282.6,"v":0.71045},{"i":286.2,"v":0.71244},{"i":288.7,"v":0.71383},{"i":292.3,"v":0.71425},{"i":294.5,"v":0.71432},{"i":297,"v":0.71406},{"i":299.5,"v":0.71357},{"i":301.7,"v":0.71282},{"i":304.2,"v":0.71195},{"i":306,"v":0.71131},{"i":308.8,"v":0.7112},{"i":312.4,"v":0.71082},{"i":316,"v":0.71056},{"i":319.6,"v":0.7103},{"i":322.1,"v":0.70969},{"i":325.7,"v":0.70917},{"i":329.3,"v":0.70868},{"i":334,"v":0.70793},{"i":337.6,"v":0.70774}
],
"red":[
{"i":0,"v":0.70857},{"i":3.5,"v":0.70823},{"i":8.5,"v":0.708},{"i":13.2,"v":0.70793},{"i":17.9,"v":0.70785},{"i":22.9,"v":0.70793},{"i":25.1,"v":0.70782},{"i":27.6,"v":0.70717},{"i":29.9,"v":0.70631},{"i":33.7,"v":0.70518},{"i":37.3,"v":0.70428},{"i":40.9,"v":0.7039},{"i":44.5,"v":0.70341},{"i":48.1,"v":0.70315},{"i":50.2,"v":0.70303},{"i":53.8,"v":0.7033},{"i":58.8,"v":0.70379},{"i":63.5,"v":0.70405},{"i":66,"v":0.7039},{"i":69.6,"v":0.70315},{"i":73.2,"v":0.70255},{"i":77.9,"v":0.70191},{"i":81.5,"v":0.70153},{"i":85.1,"v":0.70191},{"i":88.6,"v":0.7024},{"i":92.9,"v":0.70296},{"i":97.6,"v":0.70349},{"i":103,"v":0.7039},{"i":109.1,"v":0.70454},{"i":114.9,"v":0.70503},{"i":121,"v":0.70593},{"i":127.1,"v":0.70642},{"i":130.7,"v":0.70668},{"i":135.3,"v":0.70706},{"i":138.9,"v":0.70755},{"i":141.4,"v":0.70774},{"i":143.6,"v":0.70774},{"i":146.1,"v":0.70744},{"i":148.6,"v":0.70691},{"i":152.2,"v":0.70631},{"i":156.9,"v":0.70616},{"i":160.5,"v":0.70631},{"i":164.1,"v":0.70691},{"i":167.7,"v":0.70782},{"i":171.3,"v":0.70782},{"i":174.9,"v":0.70744},{"i":178.4,"v":0.7068},{"i":182,"v":0.70616},{"i":185.6,"v":0.70586},{"i":189.2,"v":0.70604},{"i":193.9,"v":0.70631},{"i":198.9,"v":0.70706},{"i":203.6,"v":0.70782},{"i":207.2,"v":0.70804},{"i":211.8,"v":0.70819},{"i":216.9,"v":0.70842},{"i":221.5,"v":0.70906},{"i":224.1,"v":0.70969},{"i":227.7,"v":0.70992},{"i":231.2,"v":0.70992},{"i":235.9,"v":0.70988},{"i":240.6,"v":0.70988},{"i":245.6,"v":0.70981},{"i":250.3,"v":0.70992},{"i":254.9,"v":0.70981},{"i":260,"v":0.70951},{"i":264.7,"v":0.70868},{"i":268.3,"v":0.70819},{"i":271.8,"v":0.708},{"i":276.5,"v":0.70819},{"i":281.5,"v":0.70868},{"i":285.1,"v":0.70992},{"i":288.7,"v":0.71143},{"i":292.3,"v":0.71297},{"i":295.9,"v":0.71372},{"i":298.8,"v":0.71391},{"i":301.7,"v":0.71372},{"i":304.2,"v":0.71319},{"i":306.7,"v":0.71207},{"i":310.3,"v":0.71169},{"i":313.9,"v":0.7112},{"i":317.4,"v":0.71082},{"i":319.8,"v":0.71067},{"i":324.6,"v":0.71018},{"i":326.8,"v":0.70992},{"i":330.4,"v":0.70943},{"i":334,"v":0.70879},{"i":337.6,"v":0.7083},{"i":340.1,"v":0.70804}
],
"blue":[
{"i":0,"v":0.7086},{"i":3.5,"v":0.70868},{"i":8.5,"v":0.70842},{"i":13.2,"v":0.70811},{"i":17.9,"v":0.70804},{"i":22.9,"v":0.70785},{"i":26.5,"v":0.70797},{"i":30.1,"v":0.70785},{"i":33.7,"v":0.70668},{"i":37.3,"v":0.70604},{"i":40.9,"v":0.70529},{"i":44.5,"v":0.70466},{"i":48.1,"v":0.70416},{"i":51.7,"v":0.70386},{"i":56.3,"v":0.7039},{"i":61,"v":0.70405},{"i":64.6,"v":0.70405},{"i":68.2,"v":0.70379},{"i":71.8,"v":0.7033},{"i":75.4,"v":0.70292},{"i":78.9,"v":0.70258},{"i":82.5,"v":0.70202},{"i":85.1,"v":0.70198},{"i":88.6,"v":0.7021},{"i":94,"v":0.70247},{"i":99.4,"v":0.70285},{"i":104.8,"v":0.7033},{"i":111.3,"v":0.70379},{"i":118.5,"v":0.70443},{"i":124.6,"v":0.70529},{"i":130.7,"v":0.70589},{"i":135.3,"v":0.70612},{"i":137.9,"v":0.70627},{"i":140,"v":0.7068},{"i":143.6,"v":0.70717},{"i":147.2,"v":0.70729},{"i":150.8,"v":0.70706},{"i":154.4,"v":0.70668},{"i":158,"v":0.70642},{"i":161.6,"v":0.70634},{"i":165.2,"v":0.70668},{"i":168.7,"v":0.70717},{"i":171.3,"v":0.70763},{"i":175.9,"v":0.70747},{"i":181,"v":0.70706},{"i":184.6,"v":0.70653},{"i":188.2,"v":0.70631},{"i":192.8,"v":0.70623},{"i":198.9,"v":0.70653},{"i":204.7,"v":0.70706},{"i":209.7,"v":0.70744},{"i":214.4,"v":0.70766},{"i":219,"v":0.70819},{"i":222.6,"v":0.70857},{"i":226.2,"v":0.70906},{"i":229.8,"v":0.70943},{"i":233.4,"v":0.70962},{"i":238.4,"v":0.70962},{"i":243.1,"v":0.70973},{"i":247.8,"v":0.70981},{"i":252.8,"v":0.70988},{"i":257.5,"v":0.70988},{"i":262.1,"v":0.70969},{"i":267.2,"v":0.70932},{"i":270.8,"v":0.70895},{"i":275.4,"v":0.70857},{"i":279,"v":0.70868},{"i":283.7,"v":0.70876},{"i":287.3,"v":0.70943},{"i":290.9,"v":0.71045},{"i":294.5,"v":0.71169},{"i":298.1,"v":0.71233},{"i":301.7,"v":0.71274},{"i":305.2,"v":0.71274},{"i":307.8,"v":0.71233},{"i":311.4,"v":0.71195},{"i":316,"v":0.71158},{"i":319.6,"v":0.7112},{"i":324.6,"v":0.71094},{"i":329.3,"v":0.71045},{"i":334,"v":0.70981},{"i":339,"v":0.70917},{"i":342.6,"v":0.70868}
],
"signal":[
{"i":0,"v":-0.00033},{"i":17.9,"v":-0.00013},{"i":22.9,"v":-0.0004},{"i":27.6,"v":-0.0012},{"i":32.3,"v":-0.00173},{"i":38.4,"v":-0.00173},{"i":44.5,"v":-0.00133},{"i":50.2,"v":-0.00053},{"i":56.3,"v":0},{"i":61,"v":0},{"i":66,"v":-0.0004},{"i":70.7,"v":-0.0008},{"i":76.8,"v":-0.00093},{"i":81.5,"v":-0.00053},{"i":86.1,"v":0.00013},{"i":92.2,"v":0.00067},{"i":98.3,"v":0.0004},{"i":104.1,"v":0.00053},{"i":110.2,"v":0.0008},{"i":116.3,"v":0.00093},{"i":121,"v":0.00106},{"i":127.1,"v":0.0008},{"i":134.3,"v":0.0008},{"i":142.5,"v":0.00067},{"i":147.2,"v":0},{"i":152.2,"v":-0.00053},{"i":156.9,"v":0},{"i":163,"v":0.00053},{"i":167.7,"v":0.0008},{"i":173.8,"v":0.00013},{"i":179.5,"v":-0.0004},{"i":186.7,"v":-0.00053},{"i":191.7,"v":0.00013},{"i":197.5,"v":0.00053},{"i":204.7,"v":0.00053},{"i":211.8,"v":0.00053},{"i":216.9,"v":0.0008},{"i":222.6,"v":0.00106},{"i":227.7,"v":0.00093},{"i":233.4,"v":0.0004},{"i":239.5,"v":0.00027},{"i":246.7,"v":0.00013},{"i":253.9,"v":0},{"i":260,"v":-0.0004},{"i":267.2,"v":-0.0008},{"i":272.9,"v":-0.00053},{"i":279,"v":0.00013},{"i":285.1,"v":0.0012},{"i":290.9,"v":0.00186},{"i":294.5,"v":0.00186},{"i":298.1,"v":0.0012},{"i":301.7,"v":0.00053},{"i":305.2,"v":-0.00013},{"i":308.8,"v":-0.0004},{"i":315,"v":-0.00053},{"i":321.1,"v":-0.00067},{"i":326.8,"v":-0.0008},{"i":331.8,"v":-0.00083},{"i":334,"v":-0.000852}
],
"sep":[{"i":19},{"i":43},{"i":67},{"i":91},{"i":115},{"i":139},{"i":163},{"i":187},{"i":211},{"i":235},{"i":258},{"i":282},{"i":306},{"i":329},{"i":353}],
"levels":[{"p":0.71698,"t":"0.71698"},{"p":0.71466,"t":"0.71466"},{"p":0.71308,"t":"0.71308"},{"p":0.71144,"t":"0.71144"},{"p":0.70937,"t":"0.70937"},{"p":0.70651,"t":"0.70651"},{"p":0.70441,"t":"0.70441"},{"p":0.70211,"t":"0.70211"}],
"cur":[{"p":0.70785,"t":"0.70785"}]
},
"vconcat":[
{
"width":1169,"height":475,
"layer":[
{"data":{"name":"sep"},"mark":{"type":"rule","color":"#3A3A3A","strokeDash":[2,2],"strokeWidth":1},
 "encoding":{"x":{"field":"i","type":"quantitative","title":null,"scale":{"domain":[0,420],"nice":false,"zero":false},
  "axis":{"values":[0,8,16,24,32,40,48,56,64,72,80,88,96,104,112,120,128,136,144,152,160,168,176,184,192,200,208,216,224,232,240,248,256,264,272,280,288,296,304,312,320,328,336,344,352,360,368,376,384,392,400,408,416],"labels":false,"ticks":false,"domain":true,"domainColor":"#8C8C8C","domainWidth":2,"grid":true,"gridColor":"#C9C9C9","gridDash":[2,2],"gridWidth":1,"title":null}}}},
{"data":{"name":"levels"},"mark":{"type":"rule","color":"#FF3535","strokeWidth":1.2},
 "encoding":{"y":{"field":"p","type":"quantitative","title":null,"scale":{"domain":[0.69976,0.71764],"nice":false,"zero":false},
  "axis":{"orient":"right","values":[0.71745,0.7166,0.7157,0.7148,0.7139,0.71305,0.71215,0.71125,0.7104,0.7095,0.7086,0.70775,0.70685,0.70595,0.7051,0.7042,0.7033,0.70245,0.70155,0.70065,0.6998],"format":".5f","labelFont":"Liberation Sans","labelFontSize":6.3,"grid":true,"gridColor":"#C9C9C9","gridDash":[2,2],"tickSize":2,"tickColor":"#000000","domainColor":"#000000","labelPadding":1,"labelOverlap":false,"labelFlush":false,"labelBound":false,"title":null}}}},
{"data":{"name":"cur"},"mark":{"type":"rule","color":"#B4B4B4","strokeWidth":1},"encoding":{"y":{"field":"p","type":"quantitative","title":null}}},
{"data":{"name":"blue"},"mark":{"type":"line","color":"#3030F0","strokeWidth":1},"encoding":{"x":{"field":"i","type":"quantitative","title":null},"y":{"field":"v","type":"quantitative","title":null}}},
{"data":{"name":"red"},"mark":{"type":"line","color":"#F03030","strokeWidth":1},"encoding":{"x":{"field":"i","type":"quantitative","title":null},"y":{"field":"v","type":"quantitative","title":null}}},
{"data":{"name":"green"},"mark":{"type":"line","color":"#22D422","strokeWidth":1},"encoding":{"x":{"field":"i","type":"quantitative","title":null},"y":{"field":"v","type":"quantitative","title":null}}},
{"data":{"name":"bars"},"mark":{"type":"rule","strokeWidth":1},
 "encoding":{"x":{"field":"i","type":"quantitative","title":null},"y":{"field":"l","type":"quantitative","title":null},"y2":{"field":"h"},
  "color":{"condition":{"test":"datum.c >= datum.o","value":"#8EA6EC"},"value":"#4B70DD"}}},
{"data":{"name":"bars"},"mark":{"type":"bar","size":2.2},
 "encoding":{"x":{"field":"i","type":"quantitative","title":null},"y":{"field":"o","type":"quantitative","title":null},"y2":{"field":"c"},
  "color":{"condition":{"test":"datum.c >= datum.o","value":"#A9BBEF"},"value":"#3D64D8"}}},
{"data":{"name":"levels"},"mark":{"type":"tick","orient":"horizontal","size":26,"thickness":9,"color":"#FF1414","opacity":1},
 "encoding":{"x":{"datum":426},"y":{"field":"p","type":"quantitative","title":null}}},
{"data":{"name":"levels"},"mark":{"type":"text","align":"left","baseline":"middle","color":"#FFFFFF","fontSize":6.3},
 "encoding":{"x":{"datum":421.5},"y":{"field":"p","type":"quantitative","title":null},"text":{"field":"t"}}},
{"data":{"name":"cur"},"mark":{"type":"tick","orient":"horizontal","size":26,"thickness":9,"color":"#000000","opacity":1},
 "encoding":{"x":{"datum":426},"y":{"field":"p","type":"quantitative","title":null}}},
{"data":{"name":"cur"},"mark":{"type":"text","align":"left","baseline":"middle","color":"#FFFFFF","fontSize":6.3},
 "encoding":{"x":{"datum":421.5},"y":{"field":"p","type":"quantitative","title":null},"text":{"field":"t"}}},
{"data":{"values":[{"t":"AUDUSD,H1  0.70788 0.70790 0.70751 0.70785"}]},"mark":{"type":"text","align":"left","baseline":"middle","color":"#000000","fontSize":6.7},
 "encoding":{"x":{"datum":3.9},"y":{"datum":0.71741},"text":{"field":"t"}}},
{"data":{"values":[{"t":"▼"}]},"mark":{"type":"text","align":"center","baseline":"middle","color":"#000000","fontSize":5},
 "encoding":{"x":{"datum":1.5},"y":{"datum":0.71741},"text":{"field":"t"}}}
]
},
{
"width":1169,"height":34,
"layer":[
{"data":{"name":"sep"},"mark":{"type":"rule","color":"#3A3A3A","strokeDash":[2,2],"strokeWidth":1},
 "encoding":{"x":{"field":"i","type":"quantitative","title":null,"scale":{"domain":[0,420],"nice":false,"zero":false},
  "axis":{"values":[0,8,16,24,32,40,48,56,64,72,80,88,96,104,112,120,128,136,144,152,160,168,176,184,192,200,208,216,224,232,240,248,256,264,272,280,288,296,304,312,320,328,336,344,352,360,368,376,384,392,400,408,416],
   "labelExpr":"(datum.value % 16 === 0 && datum.value <= 320) ? ['5 Mar 2019','5 Mar 21:00','6 Mar 13:00','7 Mar 05:00','7 Mar 21:00','8 Mar 13:00','11 Mar 05:00','11 Mar 21:00','12 Mar 13:00','13 Mar 05:00','13 Mar 21:00','14 Mar 13:00','15 Mar 05:00','15 Mar 21:00','18 Mar 14:00','19 Mar 06:00','19 Mar 22:00','20 Mar 14:00','21 Mar 06:00','21 Mar 22:00','22 Mar 14:00'][datum.value / 16] : ''",
   "labelFont":"Liberation Sans","labelAlign":"left","labelBaseline":"middle","labelPadding":3,"labelOffset":1,"labelFontSize":6.7,"labelOverlap":false,"labelFlush":false,"labelBound":false,
   "tickSize":3,"tickColor":"#000000","tickOpacity":{"condition":{"test":"datum.value % 16 === 0 && datum.value <= 320","value":1},"value":0},
   "domainColor":"#000000","grid":true,"gridColor":"#C9C9C9","gridDash":[2,2],"title":null}}}},
{"data":{"name":"bars"},"mark":{"type":"rule","color":"#BDBDBD","strokeWidth":1.2},
 "encoding":{"x":{"field":"i","type":"quantitative","title":null},"y":{"field":"m","type":"quantitative","title":null,"scale":{"domain":[-0.00213,0.00239],"nice":false,"zero":false},
  "axis":{"orient":"right","values":[0.001862,0,-0.00154],"labelExpr":"datum.value === 0 ? '0.00' : (datum.value > 0 ? '0.001862' : '-0.00154')","labelFont":"Liberation Sans","labelFontSize":5.7,"grid":true,"gridColor":"#C9C9C9","gridDash":[2,2],"tickSize":2,"tickColor":"#000000","domainColor":"#000000","labelPadding":1,"labelOverlap":false,"labelFlush":false,"labelBound":false,"title":null}},
  "y2":{"datum":0}}},
{"data":{"name":"signal"},"mark":{"type":"line","color":"#FF2A2A","strokeWidth":1,"strokeDash":[2,2]},"encoding":{"x":{"field":"i","type":"quantitative","title":null},"y":{"field":"v","type":"quantitative","title":null}}},
{"data":{"values":[{"t":"MACD(12,26,9) -0.000767 -0.000852"}]},"mark":{"type":"text","align":"left","baseline":"middle","color":"#000000","fontSize":6.7},
 "encoding":{"x":{"datum":1.1},"y":{"datum":0.00163},"text":{"field":"t"}}}
]
}
]
}
